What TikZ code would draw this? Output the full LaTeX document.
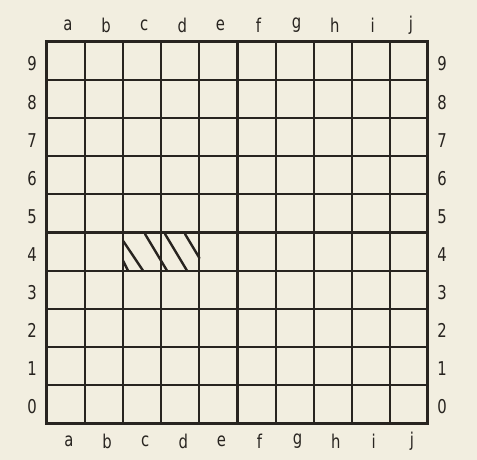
\documentclass[tikz,border=0pt]{standalone}
\usepackage{fontspec}
\usepackage{graphicx}
\setmainfont{DejaVu Sans}
\definecolor{paper}{RGB}{242,238,224}
\definecolor{ink}{RGB}{40,36,32}
\newcommand{\lbltext}[1]{\scalebox{0.78}[1]{#1}}
\begin{document}
\begin{tikzpicture}[x=1pt,y=-1pt,
  thinline/.style={draw=ink,line width=1.8pt},
  thickline/.style={draw=ink,line width=3pt},
  hatchline/.style={draw=ink,line width=2.4pt,line cap=round},
  lbl/.style={text=ink,font=\fontsize{19}{19}\selectfont,inner sep=0pt,anchor=center}]
\fill[paper] (0,0) rectangle (477,460);
\useasboundingbox (0,0) rectangle (477,460);
% thin grid lines
\foreach \p in {85,123,161,199,276,314,352,390}{
  \draw[thinline] (\p,42) -- (\p,423);
}
\foreach \p in {80,118,156,194,271,309,347,385}{
  \draw[thinline] (47,\p) -- (428,\p);
}
% thick lines
\draw[thickline] (237.5,42) -- (237.5,423);
\draw[thickline] (47,232.5) -- (428,232.5);
\draw[thickline] (46.5,41.5) rectangle (427.5,423.5);
% hatching in c4-d4
\draw[hatchline] (123.2,261) -- (128,270.6);
\draw[hatchline] (123.2,241) -- (143,270.6);
\draw[hatchline] (145,234) -- (167,270.6);
\draw[hatchline] (165,234) -- (187,270.6);
\draw[hatchline] (185,234) -- (199.4,258);
% column labels
\foreach \c [count=\k from 0] in {a,b,c,d,e,f,g,h,i,j}{
  \node[lbl] (top\c) at ({68+38.1*\k},25) {\lbltext{\c}};
  \node[lbl] (bot\c) at ({69+38.1*\k},441) {\lbltext{\c}};
}
% row labels
\foreach \r [count=\k from 0] in {9,8,7,6,5,4,3,2,1,0}{
  \node[lbl] (left\r) at (32,{64+38.1*\k}) {\lbltext{\r}};
  \node[lbl] (right\r) at (442,{64+38.1*\k}) {\lbltext{\r}};
}
\end{tikzpicture}
\end{document}
